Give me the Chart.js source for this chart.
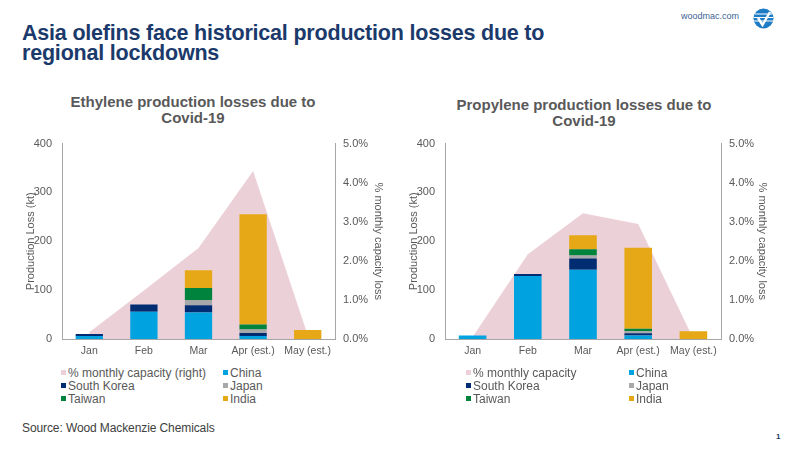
<!DOCTYPE html>
<html>
<head>
<meta charset="utf-8">
<script src="https://cdn.jsdelivr.net/npm/chart.js@4.4.1/dist/chart.umd.min.js"></script>
<style>
  body { margin: 0; width: 800px; height: 450px; position: relative; background: #fff; overflow: hidden;
         font-family: 'Liberation Sans', Arial, sans-serif; }
  .title { position: absolute; left: 22px; top: 23px; font-size: 21.5px; line-height: 20px; font-weight: bold; color: #1b3a6b; letter-spacing: -0.2px; }
  .site { position: absolute; left: 681px; top: 11px; font-size: 9px; color: #3d5f95; }
  .logo { position: absolute; left: 753px; top: 8px; }
  .sub { position: absolute; width: 320px; text-align: center; font-size: 15px; line-height: 16px; font-weight: bold; color: #595959; }
  .box { position: absolute; }
  .legend { position: absolute; font-size: 12px; color: #595959; line-height: 13px; }
  .legend div { position: absolute; white-space: nowrap; }
  .legend span { display: inline-block; width: 5px; height: 5px; margin-right: 2px; vertical-align: 2px; }
  .source { position: absolute; left: 22px; top: 421px; font-size: 12px; color: #404040; letter-spacing: -0.1px; }
  .page { position: absolute; left: 776px; top: 432px; font-size: 8px; font-weight: bold; color: #1b3a6b; }
</style>
</head>
<body>
<div class="title">Asia olefins face historical production losses due to<br>regional lockdowns</div>
<div class="site">woodmac.com</div>
<svg class="logo" width="21" height="21" viewBox="0 0 21 21">
  <circle cx="10.5" cy="10.5" r="10" fill="#1e7cc4"/>
  <path d="M2 6 H19 M1 9.5 H20 M1 13 H20" stroke="#fff" stroke-width="1.2"/>
  <path d="M5 10 L9.5 17 L17 4" stroke="#fff" stroke-width="2.4" fill="none"/>
</svg>

<div class="sub" style="left:33px;top:94px">Ethylene production losses due to<br>Covid-19</div>
<div class="sub" style="left:424px;top:97px">Propylene production losses due to<br>Covid-19</div>

<div class="box" style="left:0;top:127px;width:400px;height:235px"><canvas id="ethChart"></canvas></div>
<div class="box" style="left:390px;top:127px;width:400px;height:235px"><canvas id="proChart"></canvas></div>

<div class="legend" id="ethLegend" style="left:61px;top:367px"></div>
<div class="legend" id="proLegend" style="left:466px;top:367px"></div>

<div class="source">Source: Wood Mackenzie Chemicals</div>
<div class="page">1</div>

<script>
// data (kt, and % of monthly capacity)
const months = ['Jan', 'Feb', 'Mar', 'Apr (est.)', 'May (est.)'];
const countries = ['China', 'South Korea', 'Japan', 'Taiwan', 'India'];
const countryColors = ['#00a3e0', '#002d72', '#a7a8aa', '#00843d', '#e6a817'];
const capacityColor = '#ebd0d7';

const ethChina = [6, 56, 54, 6, 0];
const ethSouthKorea = [4, 14.5, 15, 6.5, 0];
const ethJapan = [0, 0, 11, 7, 0];
const ethTaiwan = [0, 0, 24.5, 10, 0];
const ethIndia = [0, 0, 36, 226, 18.5];
const ethCapacity = [0.17, 1.24, 2.33, 4.3, 0.1];

const proChina = [7, 129, 142, 7, 0];
const proSouthKorea = [0, 4, 23, 5, 0];
const proJapan = [0, 0, 6, 4, 0];
const proTaiwan = [0, 0, 12.5, 5, 0];
const proIndia = [0, 0, 29, 166, 16];
const proCapacity = [0.05, 2.17, 3.22, 2.94, 0];

const lossTicks = [0, 100, 200, 300, 400];
const pctTicks = [0, 1, 2, 3, 4, 5];

(function () {
  'use strict';

  const font = { family: "'Liberation Sans', Arial, sans-serif", size: 11 };
  const grey = '#595959';
  const axisLine = '#a6a6a6';

  function makeChart(id, series, capacity, pad, widths) {
    const datasets = [{
      type: 'line',
      label: 'capacity',
      data: capacity,
      yAxisID: 'y1',
      fill: 'origin',
      backgroundColor: capacityColor,
      borderWidth: 0,
      pointRadius: 0,
      tension: 0,
      order: 10
    }];
    countries.forEach(function (name, i) {
      datasets.push({
        type: 'bar',
        label: name,
        data: series[i],
        backgroundColor: countryColors[i],
        yAxisID: 'y',
        stack: 'loss',
        barPercentage: 0.5,
        categoryPercentage: 1,
        order: 1
      });
    });

    return new Chart(document.getElementById(id), {
      data: { labels: months, datasets: datasets },
      options: {
        responsive: true,
        maintainAspectRatio: false,
        animation: false,
        layout: { padding: { top: 10, left: pad.left, right: pad.right, bottom: 0 } },
        plugins: { legend: { display: false }, tooltip: { enabled: false } },
        scales: {
          x: {
            stacked: true,
            grid: { display: false, drawTicks: false },
            border: { display: true, color: axisLine },
            ticks: { color: grey, font: { family: font.family, size: 10.5 }, padding: 6, maxRotation: 0, minRotation: 0, autoSkip: false },
            afterFit: function (scale) { scale.height = 23; }
          },
          y: {
            stacked: true,
            position: 'left',
            min: lossTicks[0],
            max: lossTicks[lossTicks.length - 1],
            afterBuildTicks: function (scale) { scale.ticks = lossTicks.map(v => ({ value: v })); },
            grid: { display: false, drawTicks: false },
            border: { display: true, color: axisLine },
            ticks: { color: grey, font: font, padding: 10 },
            title: { display: true, text: 'Production Loss (kt)', color: grey, font: font, padding: 0 },
            afterFit: function (scale) { scale.width = widths.y; }
          },
          y1: {
            stacked: false,
            position: 'right',
            min: pctTicks[0],
            max: pctTicks[pctTicks.length - 1],
            afterBuildTicks: function (scale) { scale.ticks = pctTicks.map(v => ({ value: v })); },
            grid: { display: false, drawTicks: false },
            border: { display: true, color: axisLine },
            ticks: { color: grey, font: font, padding: 8, callback: v => v.toFixed(1) + '%' },
            title: { display: true, text: '% monthly capacity loss', color: grey, font: font, padding: 0 },
            afterFit: function (scale) { scale.width = widths.y1; }
          }
        }
      }
    });
  }

  // legend laid out like the slide: 3 rows x 2 columns
  function makeLegend(id, capLabel, colX) {
    const items = [[capLabel, capacityColor]].concat(countries.map((c, i) => [c, countryColors[i]]));
    const el = document.getElementById(id);
    items.forEach(function (item, i) {
      const d = document.createElement('div');
      d.style.left = colX[i % 2] + 'px';
      d.style.top = (Math.floor(i / 2) * 13) + 'px';
      d.innerHTML = '<span style="background:' + item[1] + '"></span>' + item[0];
      el.appendChild(d);
    });
  }

  makeChart('ethChart',
    [ethChina, ethSouthKorea, ethJapan, ethTaiwan, ethIndia], ethCapacity,
    { left: 24, right: 15 }, { y: 38, y1: 50 });
  makeChart('proChart',
    [proChina, proSouthKorea, proJapan, proTaiwan, proIndia], proCapacity,
    { left: 17, right: 21 }, { y: 38, y1: 48 });

  makeLegend('ethLegend', '% monthly capacity (right)', [0, 162]);
  makeLegend('proLegend', '% monthly capacity', [0, 163]);
})();
</script>
</body>
</html>
